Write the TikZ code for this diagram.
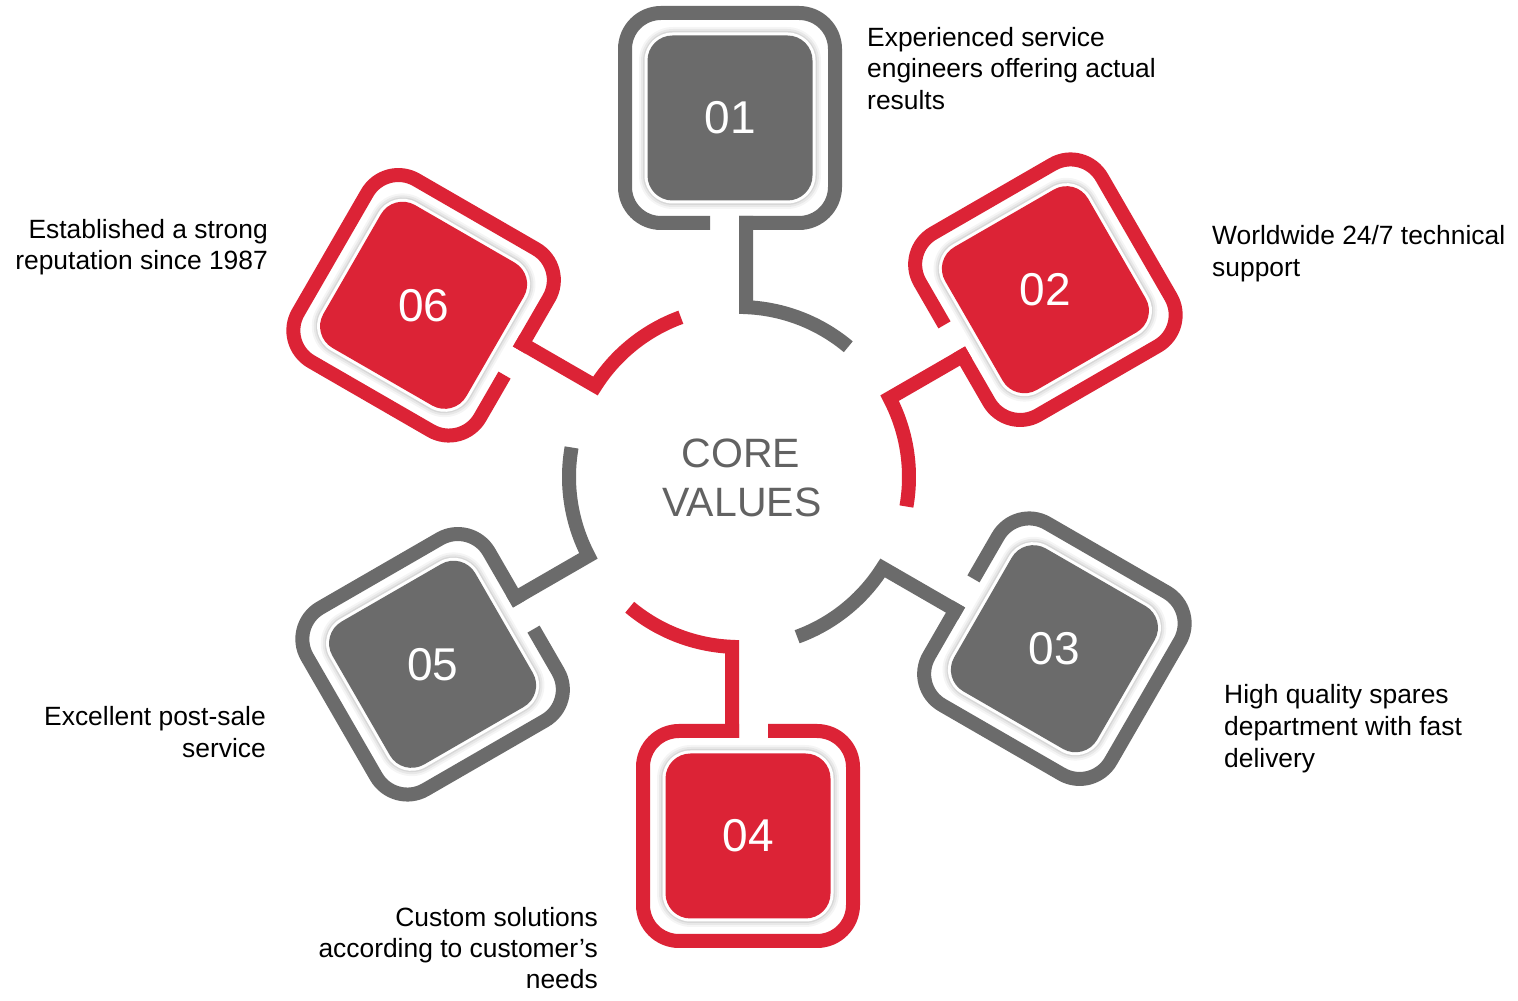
\documentclass[tikz,border=0pt]{standalone}
\usepackage{fontspec}
\setmainfont{Liberation Sans}
\definecolor{cvgray}{RGB}{107,107,107}
\definecolor{cvred}{RGB}{220,35,54}
\definecolor{cvtext}{RGB}{98,98,98}
\begin{document}
\begin{tikzpicture}[x=1pt,y=1pt,line cap=butt,
  band/.style={line width=14pt,draw=#1},
  lbl/.style={inner sep=0pt,font=\fontsize{26.4}{32}\selectfont,text=black},
  numtxt/.style={inner sep=0pt,text=white,font=\fontsize{46}{46}\selectfont},
  coretxt/.style={inner sep=0pt,text=cvtext,font=\fontsize{41}{49}\selectfont}]
\useasboundingbox (0,0) rectangle (1518,1001);
\fill[white] (0,0) rectangle (1518,1001);
\coordinate (C) at (739,524);
\foreach \ang/\col/\num in {90/cvgray/01,30/cvred/02,-30/cvgray/03,-90/cvred/04,-150/cvgray/05,150/cvred/06}{
  \begin{scope}[shift={(C)},rotate=\ang-90]
    % arc segment and stem
    \draw[band=\col] (50:170pt) arc[start angle=50,end angle=87.64,radius=170pt] -- (7,261);
    % outer frame with gap
    \draw[band=\col,rounded corners=36pt] (0,254) -- (96,254) -- (96,464) -- (-114,464) -- (-114,254) -- (-29,254);
    % glow and inner square
    \fill[black,opacity=0.04,rounded corners=34pt] (-100,268) rectangle (82,450);
    \fill[black,opacity=0.05,rounded corners=32pt] (-98,270) rectangle (80,448);
    \fill[black,opacity=0.07,rounded corners=30pt] (-96,272) rectangle (78,446);
    \fill[white,rounded corners=28pt] (-94.5,273.5) rectangle (76.5,444.5);
    \fill[\col,rounded corners=25pt] (-91.5,276.5) rectangle (73.5,441.5);
    \node[numtxt] (n\num) at (-9,359) {\num};
  \end{scope}
}
% centre text
\node[coretxt,anchor=base] (core1) at (741,533) {CORE};
\node[coretxt,anchor=base] (core2) at (742,484) {VALUES};
% labels
\node[lbl,anchor=base west] (t1a) at (867,954.5) {Experienced service};
\node[lbl,anchor=base west] (t1b) at (867,923) {engineers offering actual};
\node[lbl,anchor=base west] (t1c) at (867,891.5) {results};
\node[lbl,anchor=base west] (t2a) at (1212,756) {Worldwide 24/7 technical};
\node[lbl,anchor=base west] (t2b) at (1212,724) {support};
\node[lbl,anchor=base west] (t3a) at (1224,297) {High quality spares};
\node[lbl,anchor=base west] (t3b) at (1224,265) {department with fast};
\node[lbl,anchor=base west] (t3c) at (1224,233) {delivery};
\node[lbl,anchor=base east] (t4a) at (598,74) {Custom solutions};
\node[lbl,anchor=base east] (t4b) at (598,43) {according to customer’s};
\node[lbl,anchor=base east] (t4c) at (598,12) {needs};
\node[lbl,anchor=base east] (t5a) at (266,275.5) {Excellent post-sale};
\node[lbl,anchor=base east] (t5b) at (266,243.5) {service};
\node[lbl,anchor=base east] (t6a) at (268,762) {Established a strong};
\node[lbl,anchor=base east] (t6b) at (268,731) {reputation since 1987};
\end{tikzpicture}
\end{document}
